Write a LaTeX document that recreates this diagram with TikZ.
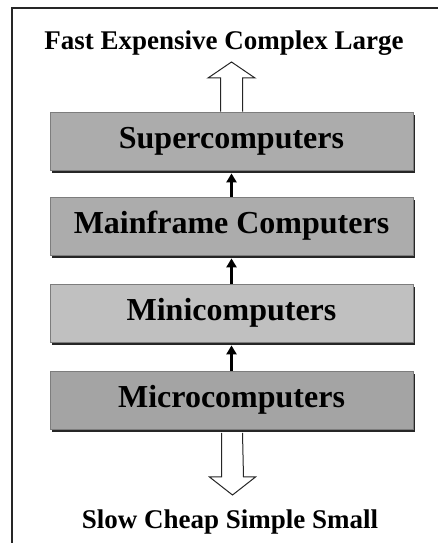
\documentclass[tikz,border=0pt]{standalone}
\usepackage{fontspec}
\setmainfont{Liberation Serif}
\usepackage{tikz}
\usetikzlibrary{arrows.meta,calc,shadows,positioning}
\definecolor{Cendre}{RGB}{172,172,172}
\definecolor{Perle}{RGB}{192,192,192}
\definecolor{Ardoise}{RGB}{164,164,164}
\definecolor{Bord}{RGB}{125,125,125}

\begin{document}
\begin{tikzpicture}[x=1pt,y=1pt,
  level/.style={draw=Bord,line width=0.8pt,minimum width=363pt,minimum height=58pt,inner sep=0pt,
    font=\fontsize{32}{36}\selectfont\bfseries,
    drop shadow={shadow xshift=2pt,shadow yshift=-3.5pt,fill=black!85,opacity=1}},
  caption/.style={font=\fontsize{27}{30}\selectfont\bfseries,inner sep=0pt},
  link/.style={line width=3pt,-{Triangle[width=10pt,length=9pt]},shorten >=3pt},
  hollow/.style={draw=black!85,line width=1pt,fill=white}]
\useasboundingbox (0,0) rectangle (437,543);
\draw[line width=1.5pt,black!85] (12,-2) -- (12,535) -- (440,535);
%
\node[caption] (fast) at (224,500) {Fast Expensive Complex Large};
\node[level,fill=Cendre] (super) at (231.5,402) {Supercomputers};
\node[level,fill=Cendre] (main) at (231.5,317) {Mainframe Computers};
\node[level,fill=Perle] (mini) at (231.5,230) {Minicomputers};
\node[level,fill=Ardoise] (micro) at (231.5,143) {Microcomputers};
\node[caption] (slow) at (230,21) {Slow Cheap Simple Small};
%
\draw[link] (main.north) -- (super.south);
\draw[link] (mini.north) -- (main.south);
\draw[link] (micro.north) -- (mini.south);
%
\coordinate (uptip) at (231.5,481);
\coordinate (downtip) at (232.5,48);
\draw[hollow] ($(super.north)+(-11,0)$) -- ($(uptip)+(-11,-16)$) -- ($(uptip)+(-23.5,-16)$) -- (uptip)
  -- ($(uptip)+(23.5,-16)$) -- ($(uptip)+(11,-16)$) -- ($(super.north)+(11,0)$);
\draw[hollow] ($(micro.south)+(-10,-3.5)$) -- ($(downtip)+(-11,18)$) -- ($(downtip)+(-23,18)$) -- (downtip)
  -- ($(downtip)+(23,18)$) -- ($(downtip)+(11,18)$) -- ($(micro.south)+(11,-3.5)$);
%
\end{tikzpicture}
\end{document}
